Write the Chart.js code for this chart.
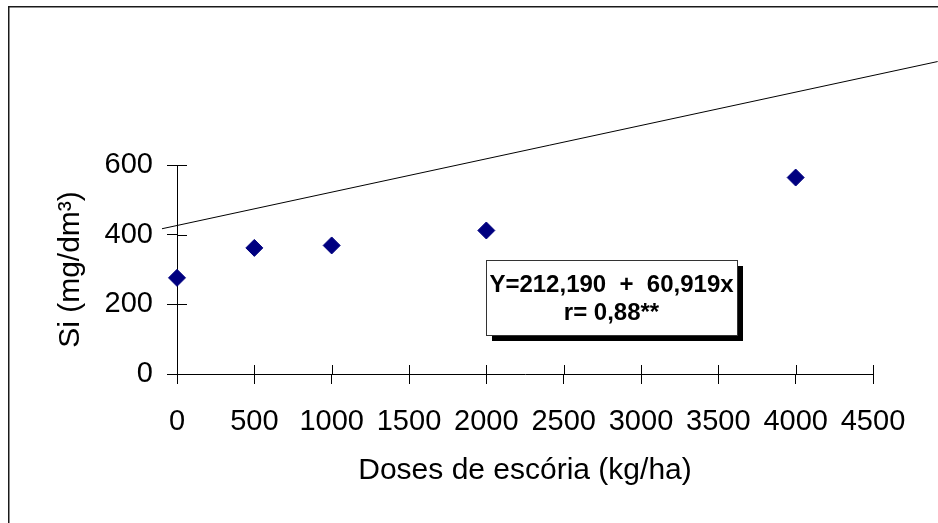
<!DOCTYPE html>
<html lang="pt">
<head>
<meta charset="utf-8">
<title>Si x Doses de escória</title>
<script src="https://cdn.jsdelivr.net/npm/chart.js@4.4.1/dist/chart.umd.min.js"></script>
<style>
  html, body { margin: 0; padding: 0; background: #fff; }
  #wrap { position: relative; width: 938px; height: 523px; }
</style>
</head>
<body>
<div id="wrap"><canvas id="siChart" width="938" height="523"></canvas></div>
<script>
// ---------- Data ----------
const doses = [0, 500, 1000, 2000, 4000];          // kg/ha
const siValues = [276, 362, 369, 412, 564];        // mg/dm3
const trendX = [-97, 4918];                        // reta ajustada (como no original)
const trendY = [417, 897];
const xTicks = [0, 500, 1000, 1500, 2000, 2500, 3000, 3500, 4000, 4500];
const yTicks = [0, 200, 400, 600];
const eqLines = ["Y=212,190  +  60,919x", "r= 0,88**"];

(() => {
  "use strict";

  const FONT = "'Liberation Sans', Arial, sans-serif";
  const INK = "#000";
  const NAVY = "#000080";

  Chart.defaults.font.family = FONT;
  Chart.defaults.color = INK;

  // ---------- Plugins ----------
  // moldura do grafico (so esquerda e topo aparecem)
  const frame = {
    id: "frame",
    beforeDraw(chart) {
      const { ctx } = chart;
      ctx.save();
      ctx.strokeStyle = "#1a1a1a";
      ctx.lineWidth = 1.5;
      ctx.strokeRect(8.75, 6.75, 2000, 2000);
      ctx.restore();
    },
  };

  // metade interna dos tracos (cruzam o eixo)
  const innerTicks = {
    id: "innerTicks",
    afterDatasetsDraw(chart) {
      const { ctx, chartArea, scales } = chart;
      ctx.save();
      ctx.strokeStyle = INK;
      ctx.lineWidth = 1;
      ctx.beginPath();
      scales.x.ticks.forEach((t) => {
        const px = Math.round(scales.x.getPixelForValue(t.value)) + 0.5;
        ctx.moveTo(px, chartArea.bottom);
        ctx.lineTo(px, chartArea.bottom - 9);
      });
      scales.y.ticks.forEach((t) => {
        const py = Math.round(scales.y.getPixelForValue(t.value)) + 0.5;
        ctx.moveTo(chartArea.left, py);
        ctx.lineTo(chartArea.left + 10, py);
      });
      ctx.stroke();
      ctx.restore();
    },
  };

  // caixa com a equacao
  const eqBox = {
    id: "eqBox",
    afterDraw(chart) {
      const { ctx } = chart;
      const x = 486, y = 260, w = 251, h = 75, sh = 6;
      ctx.save();
      ctx.fillStyle = INK;
      ctx.fillRect(x + sh, y + sh, w, h);
      ctx.fillStyle = "#fff";
      ctx.fillRect(x, y, w, h);
      ctx.strokeStyle = "#333";
      ctx.lineWidth = 1;
      ctx.strokeRect(x + 0.5, y + 0.5, w, h);
      ctx.fillStyle = INK;
      ctx.font = `bold 24px ${FONT}`;
      ctx.textAlign = "center";
      ctx.textBaseline = "alphabetic";
      ctx.fillText(eqLines[0], x + w / 2, 292);
      ctx.fillText(eqLines[1], x + w / 2, 320);
      ctx.restore();
    },
  };

  // ---------- Chart ----------
  const points = doses.map((d, i) => ({ x: d, y: siValues[i] }));
  const trend = trendX.map((d, i) => ({ x: d, y: trendY[i] }));
  const plain = (v) => String(v);

  new Chart(document.getElementById("siChart"), {
    type: "scatter",
    data: {
      datasets: [
        {
          label: "Si",
          data: points,
          pointStyle: "rectRot",
          pointRadius: 8.5,
          pointHoverRadius: 8.5,
          backgroundColor: NAVY,
          borderColor: NAVY,
          borderWidth: 1,
          clip: false,
        },
        {
          label: "Reta",
          data: trend,
          showLine: true,
          pointRadius: 0,
          borderColor: INK,
          borderWidth: 1,
          clip: false,
        },
      ],
    },
    options: {
      responsive: false,
      animation: false,
      layout: { padding: { top: 165, right: 65, left: 0, bottom: 0 } },
      plugins: {
        legend: { display: false },
        tooltip: { enabled: false },
      },
      scales: {
        x: {
          type: "linear",
          min: 0,
          max: 4500,
          afterBuildTicks: (s) => { s.ticks = xTicks.map((v) => ({ value: v })); },
          afterFit: (s) => { s.height = 149; },
          border: { display: true, color: INK, width: 1 },
          grid: { display: true, drawOnChartArea: false, drawTicks: true, tickLength: 10, color: INK },
          ticks: { padding: 21, maxRotation: 0, autoSkip: false, font: { size: 29 }, color: INK, callback: plain },
          title: { display: true, text: "Doses de escória (kg/ha)", font: { size: 30 }, color: INK, padding: { top: 0, bottom: 34 } },
        },
        y: {
          type: "linear",
          min: 0,
          max: 600,
          afterBuildTicks: (s) => { s.ticks = yTicks.map((v) => ({ value: v })); },
          afterFit: (s) => { s.width = 177; },
          border: { display: true, color: INK, width: 1 },
          grid: { display: true, drawOnChartArea: false, drawTicks: true, tickLength: 10, color: INK },
          ticks: { padding: 14, font: { size: 29 }, color: INK, callback: plain },
          title: { display: true, text: "Si (mg/dm³)", font: { size: 30 }, color: INK, padding: { top: 53, bottom: 0 } },
        },
      },
    },
    plugins: [frame, innerTicks, eqBox],
  });
})();
</script>
</body>
</html>
